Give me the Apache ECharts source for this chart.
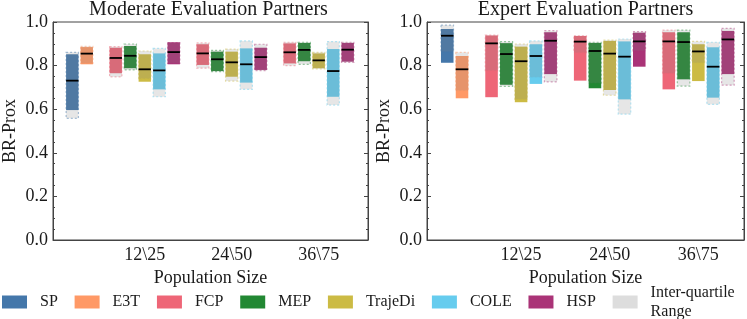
<!DOCTYPE html>
<html><head><meta charset="utf-8">
<script src="https://cdn.jsdelivr.net/npm/echarts@6/dist/echarts.min.js"></script>
<style>html,body{margin:0;padding:0;background:#fff}#c{width:747px;height:319px}</style>
</head><body><div id="c"></div>
<script>
const methods = ['SP','E3T','FCP','MEP','TrajeDi','COLE','HSP'];
const methodColors = ['#4477AA','#FF9966','#EE6677','#228833','#CCBB44','#66CCEE','#AA3377'];
const iqrLegendName = 'Inter-quartile\nRange';
const groupLabels = ['12\\25','24\\50','36\\75'];
const panelTitles = ['Moderate Evaluation Partners','Expert Evaluation Partners'];
const yTitle = 'BR-Prox';
const xTitle = 'Population Size';

// bar order: group 0 = SP, E3T ; groups 1..3 = FCP, MEP, TrajeDi, COLE, HSP
const barMethod = ['SP','E3T','FCP','MEP','TrajeDi','COLE','HSP','FCP','MEP','TrajeDi','COLE','HSP','FCP','MEP','TrajeDi','COLE','HSP'];
const barGroup  = [0,0,1,1,1,1,1,2,2,2,2,2,3,3,3,3,3];

// Moderate evaluation partners
const modMedian = [0.731,0.855,0.835,0.845,0.783,0.778,0.862,0.856,0.829,0.815,0.806,0.839,0.861,0.872,0.824,0.775,0.873];
const modBarLo  = [0.596,0.806,0.765,0.788,0.726,0.691,0.806,0.803,0.775,0.749,0.722,0.780,0.810,0.820,0.788,0.657,0.818];
const modBarHi  = [0.852,0.885,0.882,0.890,0.852,0.856,0.907,0.898,0.864,0.864,0.879,0.882,0.902,0.904,0.856,0.876,0.904];
const modIqrLo  = [0.558,0.810,0.748,0.780,0.740,0.657,0.810,0.788,0.772,0.729,0.691,0.777,0.800,0.806,0.785,0.619,0.815];
const modIqrHi  = [0.861,0.888,0.887,0.899,0.867,0.879,0.905,0.904,0.870,0.876,0.913,0.898,0.907,0.907,0.861,0.910,0.907];

// Expert evaluation partners
const expMedian = [0.937,0.783,0.902,0.853,0.820,0.844,0.914,0.910,0.867,0.855,0.841,0.911,0.911,0.908,0.865,0.795,0.920];
const expBarLo  = [0.813,0.650,0.655,0.712,0.632,0.716,0.761,0.731,0.696,0.688,0.645,0.795,0.691,0.737,0.729,0.653,0.761];
const expBarHi  = [0.968,0.844,0.938,0.903,0.887,0.898,0.953,0.936,0.904,0.913,0.911,0.951,0.953,0.953,0.898,0.884,0.959];
const expIqrLo  = [0.864,0.685,0.777,0.705,0.645,0.746,0.725,0.859,0.719,0.664,0.577,0.868,0.765,0.706,0.813,0.622,0.710];
const expIqrHi  = [0.986,0.861,0.940,0.910,0.899,0.913,0.960,0.937,0.907,0.917,0.922,0.956,0.963,0.963,0.911,0.907,0.971];

const panels = [
  {median: modMedian, lo: modBarLo, hi: modBarHi, qlo: modIqrLo, qhi: modIqrHi},
  {median: expMedian, lo: expBarLo, hi: expBarHi, qlo: expIqrLo, qhi: expIqrHi}
];

const FONT = 'Liberation Serif';
const TXT = '#1a1a1a';
const SPINE = '#444';

function rgba(hex, a) {
  const n = parseInt(hex.slice(1), 16);
  return 'rgba(' + ((n >> 16) & 255) + ',' + ((n >> 8) & 255) + ',' + (n & 255) + ',' + a + ')';
}

// slot layout: group 0 -> slots 0,1 ; group g -> 6g-3 .. 6g+1
function slotOf(i) {
  const g = barGroup[i];
  let k = 0;
  for (let j = 0; j < i; j++) if (barGroup[j] === g) k++;
  return g === 0 ? k : 6 * g - 3 + k;
}
const tickSlots = groupLabels.map((_, g) => 6 * (g + 1) - 1);

function renderItem(params, api) {
  const x = api.value(0);
  const color = api.visual('color');
  const w = api.size([0.85, 0])[0];
  const b1 = api.coord([x, api.value(2)]), b2 = api.coord([x, api.value(1)]);
  const q1 = api.coord([x, api.value(4)]), q2 = api.coord([x, api.value(3)]);
  const m = api.coord([x, api.value(5)]);
  const cx = b1[0];
  const base = methodColors[methods.indexOf(params.seriesName)] || '#888888';
  return {
    type: 'group',
    children: [
      {type: 'rect', shape: {x: cx - w / 2, y: b1[1], width: w, height: b2[1] - b1[1]},
       style: {fill: color}},
      {type: 'rect', shape: {x: cx - w / 2, y: q1[1], width: w, height: q2[1] - q1[1]},
       style: {fill: 'rgba(128,128,128,0.2)', stroke: rgba(base, 0.45), lineWidth: 1.2, lineDash: [2, 2]}},
      {type: 'line', shape: {x1: cx - w / 2, y1: m[1], x2: cx + w / 2, y2: m[1]},
       style: {stroke: '#000', lineWidth: 1.8}}
    ]
  };
}

const grids = [
  {left: 49, top: 22, width: 319, height: 218, show: true, borderColor: SPINE, borderWidth: 1},
  {left: 427, top: 22, width: 317, height: 218, show: true, borderColor: SPINE, borderWidth: 1}
];
const xRanges = [[-1.33, 20.4], [-1.37, 20.09]];

const xAxes = [0, 1].map(p => ({
  type: 'value', gridIndex: p, min: xRanges[p][0], max: xRanges[p][1],
  name: xTitle, nameLocation: 'middle', nameGap: 27,
  nameTextStyle: {fontFamily: FONT, fontSize: 18, color: TXT},
  axisLine: {show: true, onZero: false, lineStyle: {color: SPINE}},
  axisTick: {show: false},
  splitLine: {show: false},
  axisLabel: {
    customValues: tickSlots, margin: 6,
    fontFamily: FONT, fontSize: 18, color: TXT,
    formatter: v => groupLabels[tickSlots.indexOf(Math.round(v))] || ''
  }
}));

const yAxes = [];
[0, 1].forEach(p => {
  ['left', 'right'].forEach(pos => {
    yAxes.push({
      type: 'value', gridIndex: p, position: pos, min: 0, max: 1, interval: 0.2,
      name: pos === 'left' ? yTitle : '', nameLocation: 'middle', nameGap: 34,
      nameTextStyle: {fontFamily: FONT, fontSize: 18, color: TXT},
      axisLine: {show: true, onZero: false, lineStyle: {color: SPINE}},
      axisTick: {show: true, inside: true, length: 4, lineStyle: {color: SPINE}},
      minorTick: {show: true, splitNumber: 4, length: 2, lineStyle: {color: SPINE}},
      splitLine: {show: false},
      axisLabel: {show: pos === 'left', margin: 5, fontFamily: FONT, fontSize: 18, color: TXT,
                  formatter: v => v.toFixed(1)}
    });
  });
});

const series = [];
panels.forEach((pd, p) => {
  methods.forEach((mName, mi) => {
    const data = [];
    barMethod.forEach((bm, i) => {
      if (bm === mName) data.push([slotOf(i), pd.lo[i], pd.hi[i], pd.qlo[i], pd.qhi[i], pd.median[i]]);
    });
    series.push({
      type: 'custom', name: mName, xAxisIndex: p, yAxisIndex: 2 * p,
      itemStyle: {color: methodColors[mi]},
      renderItem: renderItem, data: data, encode: {x: 0, y: [1, 2, 3, 4, 5]}, animation: false
    });
  });
});
series.push({type: 'custom', name: iqrLegendName, xAxisIndex: 0, yAxisIndex: 0,
  itemStyle: {color: '#DDDDDD'}, renderItem: () => ({type: 'group', children: []}), data: []});

const chart = echarts.init(document.getElementById('c'), null, {renderer: 'canvas'});
chart.setOption({
  animation: false,
  backgroundColor: '#fff',
  title: panelTitles.map((t, p) => ({
    text: t, left: grids[p].left + grids[p].width / 2, top: 0, textAlign: 'center', padding: 0,
    textStyle: {fontFamily: FONT, fontSize: 20, fontWeight: 'normal', color: TXT}
  })),
  grid: grids,
  xAxis: xAxes,
  yAxis: yAxes,
  legend: {
    data: methods.concat([iqrLegendName]),
    left: 2, top: 283, padding: 0, icon: 'rect', itemWidth: 25, itemHeight: 13, itemGap: 16.8,
    selectedMode: false,
    textStyle: {fontFamily: FONT, fontSize: 16, color: TXT, padding: [0, 0, 0, 8], lineHeight: 19}
  },
  series: series
});
</script></body></html>
